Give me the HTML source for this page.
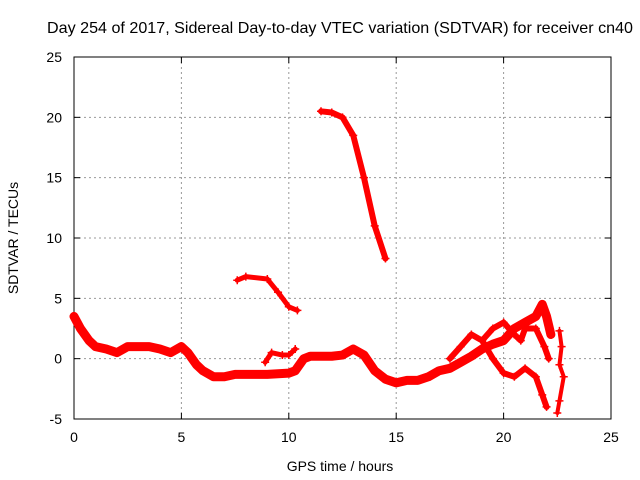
<!DOCTYPE html>
<html><head><meta charset="utf-8"><style>
body{margin:0;background:#fff}
svg{display:block;font-family:"Liberation Sans",sans-serif}
</style></head><body>
<svg id="chart" width="640" height="480">
<text x="47" y="33" font-size="16" textLength="586" lengthAdjust="spacingAndGlyphs">Day 254 of 2017, Sidereal Day-to-day VTEC variation (SDTVAR) for receiver cn40</text>
<g id="grid"></g><g id="axes"></g><g id="marks"></g>
<text x="340" y="471" font-size="14" text-anchor="middle">GPS time / hours</text>
<text transform="translate(18,238) rotate(-90)" font-size="14" text-anchor="middle">SDTVAR / TECUs</text>
</svg>
<script>
const xTicks=[0,5,10,15,20,25];
const yTicks=[-5,0,5,10,15,20,25];
const trackMain=[[0,3.5],[0.3,2.5],[0.7,1.5],[1,1],[1.5,0.8],[2,0.5],[2.5,1],[3,1],[3.5,1],[4,0.8],[4.5,0.5],[5,1],[5.3,0.5],[5.7,-0.5],[6,-1],[6.5,-1.5],[7,-1.5],[7.5,-1.3],[8,-1.3],[9,-1.3],[10,-1.2],[10.3,-1],[10.7,0],[11,0.2],[12,0.2],[12.5,0.3],[13,0.8],[13.5,0.3],[14,-1],[14.5,-1.7],[15,-2],[15.5,-1.8],[16,-1.8],[16.5,-1.5],[17,-1],[17.5,-0.8],[18,-0.3],[18.5,0.2],[19,0.8],[19.5,1.2],[20,1.5],[20.5,2.5],[21,3],[21.5,3.5],[21.8,4.5],[22,3.5],[22.2,2]];
const trackB=[[17.5,0],[18,1],[18.5,2],[19,1.5],[19.5,0],[20,-1.2],[20.5,-1.5],[21,-0.8],[21.5,-1.5],[21.8,-3],[22,-4]];
const trackC=[[19,1.5],[19.5,2.5],[20,3],[20.5,2],[20.8,1.5],[21,2.5],[21.5,2.5],[21.9,1],[22.1,0]];
const trackD=[[8.9,-0.3],[9.2,0.5],[9.7,0.3],[10,0.3],[10.3,0.8]];
const trackE=[[22.6,2.3],[22.7,1],[22.6,-0.5],[22.8,-1.5],[22.6,-3.5],[22.5,-4.5]];
const arc1=[[7.6,6.5],[8,6.8],[9,6.6],[9.5,5.5],[10,4.3],[10.4,4]];
const arc2=[[11.5,20.5],[12,20.4],[12.5,20],[13,18.5],[13.5,15],[14,11],[14.5,8.3]];
const NS="http://www.w3.org/2000/svg";
const X0=74,X1=611,Y0=419,Y1=57;
const sx=v=>X0+(v-0)/25*(X1-X0);
const sy=v=>Y0-(v+5)/30*(Y0-Y1);
function mk(t,a,p){const e=document.createElementNS(NS,t);for(const k in a)e.setAttribute(k,a[k]);p.appendChild(e);return e;}
const grid=document.getElementById('grid'),axes=document.getElementById('axes'),marks=document.getElementById('marks');
xTicks.forEach(t=>{
 if(t>0&&t<25){const l=mk('line',{x1:sx(t),x2:sx(t),y1:Y1,y2:Y0,stroke:'#999','stroke-dasharray':'2,3'},grid);
 
 }
 const tx=mk('text',{x:sx(t),y:Y0+23,'font-size':14,'text-anchor':'middle'},axes);tx.textContent=t;
 
 
 mk('line',{x1:sx(t),x2:sx(t),y1:Y0,y2:Y0-6,stroke:'#000'},axes);
 mk('line',{x1:sx(t),x2:sx(t),y1:Y1,y2:Y1+6,stroke:'#000'},axes);
});
yTicks.forEach(t=>{
 if(t>-5&&t<25){const l=mk('line',{x1:X0,x2:X1,y1:sy(t),y2:sy(t),stroke:'#999','stroke-dasharray':'2,3'},grid);
 
 }
 const tx=mk('text',{x:X0-12,y:sy(t)+5,'font-size':14,'text-anchor':'end'},axes);tx.textContent=t;
 
 
 mk('line',{x1:X0,x2:X0+6,y1:sy(t),y2:sy(t),stroke:'#000'},axes);
 mk('line',{x1:X1,x2:X1-6,y1:sy(t),y2:sy(t),stroke:'#000'},axes);
});
const fr=mk('rect',{x:X0,y:Y1,width:X1-X0,height:Y0-Y1,fill:'none',stroke:'#000'},axes);


const tracks=[[trackMain,9,'main-track'],[trackB,6,'branch-track-b'],[trackC,6,'branch-track-c'],[trackD,5,'branch-track-d'],[trackE,4,'end-track'],[arc1,5,'arc-track-1'],[arc2,6,'arc-track-2']];
tracks.forEach(([d,w,n])=>{
 const pl=mk('polyline',{points:d.map(p=>sx(p[0])+','+sy(p[1])).join(' '),fill:'none',stroke:'#f00','stroke-width':w,'stroke-linejoin':'round','stroke-linecap':'round'},marks);
 
 
 d.forEach(p=>{
  const g=mk('path',{d:`M${sx(p[0])-4},${sy(p[1])}h8M${sx(p[0])},${sy(p[1])-4}v8`,stroke:'#f00','stroke-width':1.5},marks);
  
  
 });
});
</script>
</body></html>
